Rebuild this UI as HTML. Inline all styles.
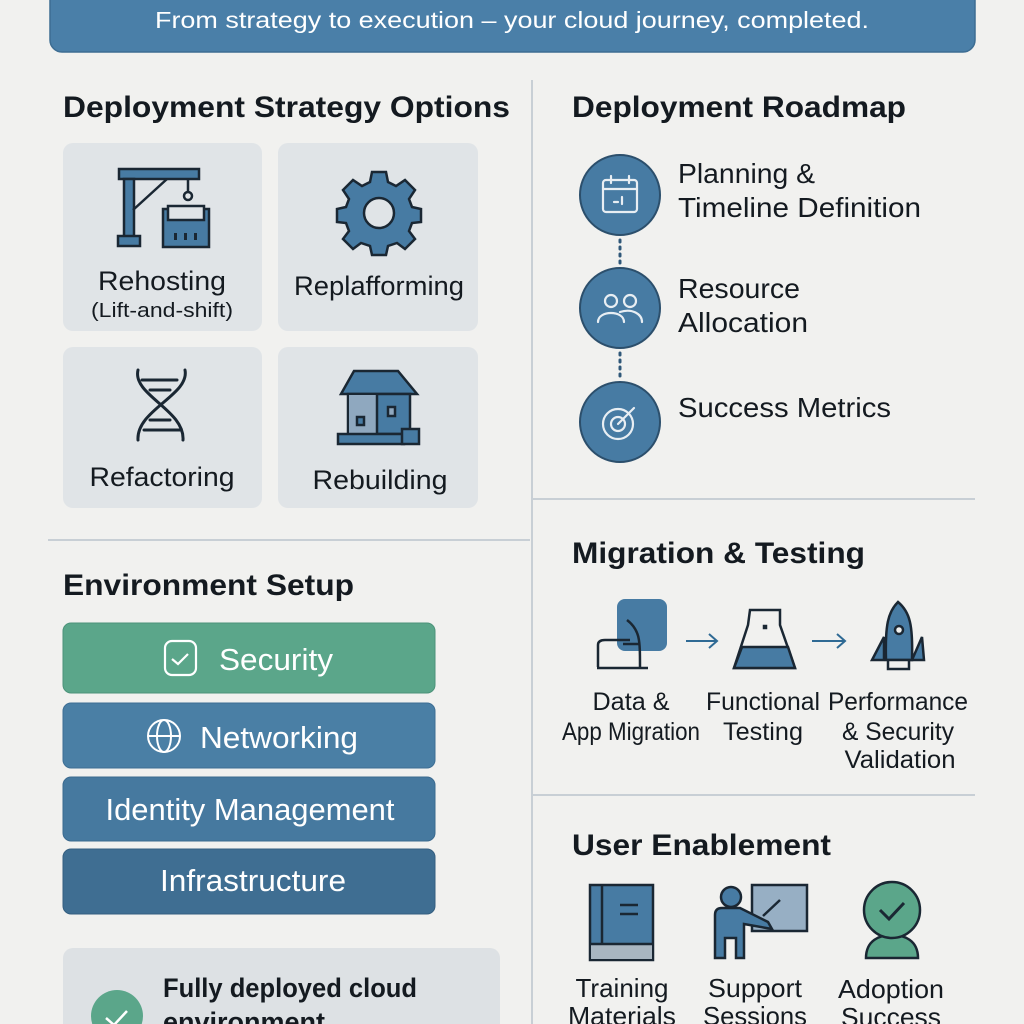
<!DOCTYPE html>
<html><head><meta charset="utf-8"><style>
html,body{margin:0;padding:0;background:#f1f1ef;}
svg{display:block;}
text{font-family:"Liberation Sans",sans-serif;}
</style></head><body>
<svg width="1024" height="1024" viewBox="0 0 1024 1024" xmlns="http://www.w3.org/2000/svg">
<rect width="1024" height="1024" fill="#f1f1ef"/>
<!-- banner -->
<rect x="50" y="-12" width="925" height="64" rx="12" fill="#4a7fa8" stroke="#3d6d92" stroke-width="1.5"/>
<text x="512" y="28" text-anchor="middle" font-size="23" fill="#fff" textLength="714" lengthAdjust="spacingAndGlyphs">From strategy to execution – your cloud journey, completed.</text>

<!-- dividers -->
<line x1="532" y1="80" x2="532" y2="1024" stroke="#c8cfd5" stroke-width="2"/>
<line x1="48" y1="540" x2="530" y2="540" stroke="#c8cfd5" stroke-width="2"/>
<line x1="533" y1="499" x2="975" y2="499" stroke="#c8cfd5" stroke-width="2"/>
<line x1="533" y1="795" x2="975" y2="795" stroke="#c8cfd5" stroke-width="2"/>

<!-- headings -->
<g font-weight="bold" font-size="30" fill="#141a20">
<text x="63" y="117" textLength="447" lengthAdjust="spacingAndGlyphs">Deployment Strategy Options</text>
<text x="572" y="117" textLength="334" lengthAdjust="spacingAndGlyphs">Deployment Roadmap</text>
<text x="63" y="595" textLength="291" lengthAdjust="spacingAndGlyphs">Environment Setup</text>
<text x="572" y="563" textLength="293" lengthAdjust="spacingAndGlyphs">Migration &amp; Testing</text>
<text x="572" y="855" textLength="259" lengthAdjust="spacingAndGlyphs">User Enablement</text>
</g>

<!-- strategy cards -->
<g fill="#e0e4e7">
<rect x="63" y="143" width="199" height="188" rx="10"/>
<rect x="278" y="143" width="200" height="188" rx="10"/>
<rect x="63" y="347" width="199" height="161" rx="10"/>
<rect x="278" y="347" width="200" height="161" rx="10"/>
</g>
<!-- crane -->
<g stroke="#1a2733" stroke-width="2.5" fill="#477ba3">
<rect x="119" y="169" width="80" height="10"/>
<rect x="124" y="179" width="10" height="62"/>
<rect x="118" y="236" width="22" height="10"/>
<line x1="133" y1="210" x2="167" y2="179"/>
<line x1="188" y1="179" x2="188" y2="192" fill="none"/>
<circle cx="188" cy="196" r="4" fill="none"/>
<rect x="163" y="209" width="46" height="38"/>
<rect x="168" y="206" width="36" height="14" fill="#e0e4e7"/>
</g>
<g fill="#1a2733"><rect x="174" y="233" width="3" height="7"/><rect x="184" y="233" width="3" height="7"/><rect x="194" y="233" width="3" height="7"/></g>
<!-- gear -->
<g transform="translate(379,213)">
<g fill="#477ba3" stroke="#1a2733" stroke-width="2.5">
<path d="M-7,-41 L7,-41 L9,-31 L17,-27 L26,-33 L36,-23 L30,-14 L33,-6 L42,-4 L42,9 L33,10 L30,18 L36,26 L26,36 L18,30 L9,33 L7,42 L-7,42 L-9,33 L-18,30 L-26,36 L-36,26 L-30,18 L-33,10 L-42,9 L-42,-4 L-33,-6 L-30,-14 L-36,-23 L-26,-33 L-17,-27 L-9,-31 Z"/>
<circle r="15" fill="#e0e4e7"/>
</g></g>
<!-- dna -->
<g fill="none" stroke="#1a2733" stroke-width="3" stroke-linecap="round">
<path d="M138,370 C132,395 185,410 183,440"/>
<path d="M185,370 C190,395 136,410 138,440"/>
<line x1="142" y1="380" x2="177" y2="380"/><line x1="150" y1="390" x2="170" y2="390"/>
<line x1="150" y1="420" x2="170" y2="420"/><line x1="144" y1="430" x2="180" y2="430"/>
</g>
<!-- house -->
<g stroke="#1a2733" stroke-width="2.5">
<path d="M354,371 L398,371 L417,394 L341,394 Z" fill="#477ba3"/>
<rect x="348" y="394" width="62" height="40" fill="#477ba3"/>
<rect x="349" y="395" width="27" height="38" fill="#8fa8bf" stroke="none"/>
<line x1="377" y1="394" x2="377" y2="434"/>
<rect x="357" y="417" width="7" height="8" fill="#477ba3"/>
<rect x="388" y="407" width="7" height="9" fill="#8fa8bf"/>
<rect x="338" y="434" width="66" height="10" fill="#477ba3"/>
<rect x="402" y="429" width="17" height="15" fill="#477ba3"/>
</g>
<g fill="#141a20" text-anchor="middle" font-size="27">
<text x="162" y="290" textLength="128" lengthAdjust="spacingAndGlyphs">Rehosting</text>
<text x="162" y="317" font-size="20" textLength="142" lengthAdjust="spacingAndGlyphs">(Lift-and-shift)</text>
<text x="379" y="295" textLength="170" lengthAdjust="spacingAndGlyphs">Replafforming</text>
<text x="162" y="486" textLength="145" lengthAdjust="spacingAndGlyphs">Refactoring</text>
<text x="380" y="489" textLength="135" lengthAdjust="spacingAndGlyphs">Rebuilding</text>
</g>

<!-- roadmap -->
<g stroke="#2f5778" stroke-width="3" stroke-dasharray="2 5" stroke-linecap="round">
<line x1="620" y1="240" x2="620" y2="266"/><line x1="620" y1="353" x2="620" y2="380"/>
</g>
<g fill="#477ba3" stroke="#2c4f6c" stroke-width="2">
<circle cx="620" cy="195" r="40"/><circle cx="620" cy="308" r="40"/><circle cx="620" cy="422" r="40"/>
</g>
<g fill="none" stroke="#e8eef3" stroke-width="2.2" stroke-linecap="round">
<rect x="603" y="180" width="34" height="32" rx="3"/><line x1="603" y1="189" x2="637" y2="189"/>
<line x1="611" y1="176" x2="611" y2="183"/><line x1="629" y1="176" x2="629" y2="183"/>
<line x1="614" y1="202" x2="618" y2="202"/><line x1="622" y1="197" x2="622" y2="204"/>
<circle cx="611" cy="301" r="6"/><path d="M598,322 C598,310 624,310 624,322"/>
<circle cx="630" cy="301" r="6"/><path d="M620,312 C632,308 642,314 642,322"/>
<circle cx="618" cy="424" r="15"/><circle cx="618" cy="424" r="7"/><line x1="618" y1="424" x2="634" y2="408"/>
</g>
<g fill="#141a20" font-size="28">
<text x="678" y="183" textLength="137" lengthAdjust="spacingAndGlyphs">Planning &amp;</text>
<text x="678" y="217" textLength="243" lengthAdjust="spacingAndGlyphs">Timeline Definition</text>
<text x="678" y="298" textLength="122" lengthAdjust="spacingAndGlyphs">Resource</text>
<text x="678" y="332" textLength="130" lengthAdjust="spacingAndGlyphs">Allocation</text>
<text x="678" y="417" textLength="213" lengthAdjust="spacingAndGlyphs">Success Metrics</text>
</g>

<!-- migration icons -->
<g stroke="#1a2733" stroke-width="2.5" fill="none">
<rect x="617" y="599" width="50" height="52" rx="8" fill="#477ba3" stroke="none"/>
<path d="M627,620 C640,630 640,640 640,667"/>
<path d="M598,667 L598,645 Q598,640 605,640 L630,640 M623,644 L640,644"/>
<line x1="597" y1="668" x2="648" y2="668"/>
</g>
<g stroke="#2f6a94" stroke-width="2" fill="none">
<path d="M686,641 L717,641 M709,634 L717,641 L709,648"/>
<path d="M812,641 L845,641 M837,634 L845,641 L837,648"/>
</g>
<g stroke="#1a2733" stroke-width="2.5">
<path d="M750,610 L780,610 L780,625 L795,668 L734,668 L748,625 L750,610 Z" fill="#f1f1ef"/>
<path d="M742,647 L788,647 L795,668 L734,668 Z" fill="#477ba3"/>
<rect x="764" y="626" width="2" height="2" fill="#1a2733"/>
</g>
<g stroke="#1a2733" stroke-width="2.5">
<path d="M884,637 L872,660 L884,660 Z" fill="#477ba3"/>
<path d="M922,637 L924,660 L912,660 Z" fill="#477ba3"/>
<path d="M898,602 C888,612 885,625 886,660 L912,660 C913,625 910,612 898,602 Z" fill="#477ba3"/>
<circle cx="899" cy="630" r="4" fill="#f1f1ef"/>
<rect x="888" y="660" width="21" height="9" fill="#f1f1ef"/>
</g>
<g fill="#141a20" font-size="25" text-anchor="middle">
<text x="631" y="710" textLength="77" lengthAdjust="spacingAndGlyphs">Data &amp;</text>
<text x="631" y="740" textLength="138" lengthAdjust="spacingAndGlyphs">App Migration</text>
<text x="763" y="710" textLength="114" lengthAdjust="spacingAndGlyphs">Functional</text>
<text x="763" y="740" textLength="80" lengthAdjust="spacingAndGlyphs">Testing</text>
<text x="898" y="710" textLength="140" lengthAdjust="spacingAndGlyphs">Performance</text>
<text x="898" y="740" textLength="112" lengthAdjust="spacingAndGlyphs">&amp; Security</text>
<text x="900" y="768" textLength="111" lengthAdjust="spacingAndGlyphs">Validation</text>
</g>

<!-- user enablement icons -->
<g stroke="#1a2733" stroke-width="2.5">
<rect x="590" y="885" width="63" height="75" fill="#477ba3"/>
<rect x="591" y="944" width="61" height="15" fill="#a9b6c1" stroke="none"/>
<line x1="590" y1="944" x2="653" y2="944"/>
<line x1="602" y1="885" x2="602" y2="944"/>
<line x1="620" y1="905" x2="638" y2="905"/><line x1="620" y1="914" x2="638" y2="914"/>
<rect x="752" y="885" width="55" height="46" fill="#97afc4"/>
<circle cx="731" cy="897" r="10" fill="#477ba3"/>
<path d="M715,958 L715,915 Q715,908 722,908 L740,908 L768,922 L772,929 L744,924 L744,958 L736,958 L736,938 L725,938 L725,958 Z" fill="#477ba3"/>
<line x1="763" y1="916" x2="780" y2="900"/>
<path d="M866,958 C866,940 880,935 892,935 C904,935 918,940 918,958 Z" fill="#5ba68a"/>
<circle cx="892" cy="910" r="28" fill="#5ba68a"/>
<path d="M880,910 L889,919 L904,903" fill="none" stroke-width="3"/>
</g>
<g fill="#141a20" font-size="26" text-anchor="middle">
<text x="622" y="997" textLength="93" lengthAdjust="spacingAndGlyphs">Training</text><text x="622" y="1025" textLength="108" lengthAdjust="spacingAndGlyphs">Materials</text>
<text x="755" y="997" textLength="94" lengthAdjust="spacingAndGlyphs">Support</text><text x="755" y="1025" textLength="104" lengthAdjust="spacingAndGlyphs">Sessions</text>
<text x="891" y="998" textLength="106" lengthAdjust="spacingAndGlyphs">Adoption</text><text x="891" y="1026" textLength="100" lengthAdjust="spacingAndGlyphs">Success</text>
</g>

<!-- environment bars -->
<rect x="63" y="623" width="372" height="70" rx="8" fill="#5ba68a" stroke="#4c937a"/>
<rect x="63" y="703" width="372" height="65" rx="8" fill="#4a7fa5" stroke="#3d6e94"/>
<rect x="63" y="777" width="372" height="64" rx="8" fill="#46799f" stroke="#3b6a8f"/>
<rect x="63" y="849" width="372" height="65" rx="8" fill="#3f6e92" stroke="#355f80"/>
<rect x="165" y="641" width="31" height="34" rx="7" fill="none" stroke="#fff" stroke-width="2.2"/>
<path d="M172,659 L178,664 L188,654" fill="none" stroke="#fff" stroke-width="2.2"/>
<g fill="none" stroke="#fff" stroke-width="2"><circle cx="164" cy="736" r="16"/><ellipse cx="164" cy="736" rx="7" ry="16"/><line x1="148" y1="736" x2="180" y2="736"/></g>
<g fill="#fff" font-size="31" text-anchor="middle">
<text x="276" y="670" textLength="114" lengthAdjust="spacingAndGlyphs">Security</text>
<text x="279" y="748" textLength="158" lengthAdjust="spacingAndGlyphs">Networking</text>
<text x="250" y="820" textLength="289" lengthAdjust="spacingAndGlyphs">Identity Management</text>
<text x="253" y="891" textLength="186" lengthAdjust="spacingAndGlyphs">Infrastructure</text>
</g>

<!-- bottom card -->
<rect x="63" y="948" width="437" height="100" rx="10" fill="#dde1e4"/>
<circle cx="117" cy="1016" r="26" fill="#5ba68a"/>
<path d="M106,1018 L114,1025 L127,1011" fill="none" stroke="#fff" stroke-width="2.5"/>
<g fill="#141a20" font-size="27" font-weight="bold">
<text x="163" y="997" textLength="254" lengthAdjust="spacingAndGlyphs">Fully deployed cloud</text>
<text x="163" y="1031">environment</text>
</g>
</svg>
</body></html>
